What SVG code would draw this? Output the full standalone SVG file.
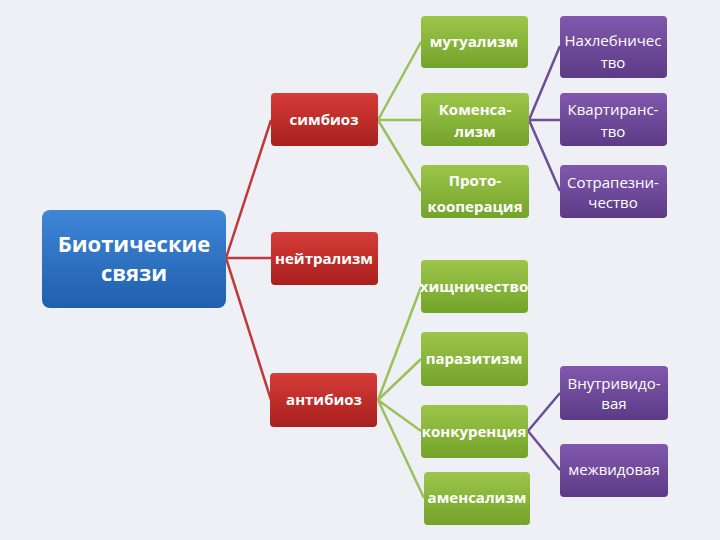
<svg xmlns="http://www.w3.org/2000/svg" width="720" height="540" viewBox="0 0 720 540">
<defs>
<linearGradient id="gb" x1="0" y1="0" x2="0" y2="1"><stop offset="0" stop-color="#3f86d6"/><stop offset="1" stop-color="#1f5fae"/></linearGradient>
<linearGradient id="gr" x1="0" y1="0" x2="0" y2="1"><stop offset="0" stop-color="#d63c38"/><stop offset="1" stop-color="#a8201d"/></linearGradient>
<linearGradient id="gg" x1="0" y1="0" x2="0" y2="1"><stop offset="0" stop-color="#9cc64a"/><stop offset="1" stop-color="#74a32a"/></linearGradient>
<linearGradient id="gp" x1="0" y1="0" x2="0" y2="1"><stop offset="0" stop-color="#8158ad"/><stop offset="1" stop-color="#5c3b86"/></linearGradient>
</defs>
<style>
text{font-family:"Open Sans","DejaVu Sans",sans-serif;fill:#fff;text-anchor:middle}
.b{font-weight:bold;font-size:15px}
.n{font-size:15px}
.r{fill:url(#gr)}.g{fill:url(#gg)}.p{fill:url(#gp)}
.lr{stroke:#c0393a;stroke-width:2.5;fill:none}
.lg{stroke:#9bc15a;stroke-width:2.5;fill:none}
.lp{stroke:#6d4d98;stroke-width:2.5;fill:none}
</style>
<rect width="720" height="540" fill="#eef0f6"/>
<g id="connectors">
<path class="lr" d="M226 258 L271 120 M226 258 L271 258 M226 258 L271 400"/>
<path class="lg" d="M378 120 L421 42 M378 120 L421 120 M378 120 L421 191"/>
<path class="lg" d="M378 400 L421 287 M378 400 L421 359 M378 400 L421 431 M378 400 L424 498"/>
<path class="lp" d="M529 120 L560 46 M529 120 L560 120 M529 120 L560 191"/>
<path class="lp" d="M528 431 L560 393 M528 431 L560 470"/>
</g>
<g id="bio"><rect x="42" y="210" width="184" height="98" rx="8" fill="url(#gb)"/><text x="134" y="252" style="font-size:22px;font-weight:bold">Биотические</text><text x="134" y="281" style="font-size:22px;font-weight:bold">связи</text></g>
<g id="simbioz"><rect class="r" x="271" y="93" width="107" height="53" rx="4"/><text class="b" x="324" y="125">симбиоз</text></g>
<g id="neitr"><rect class="r" x="271" y="232" width="107" height="53" rx="4"/><text class="b" x="324" y="264">нейтрализм</text></g>
<g id="antibioz"><rect class="r" x="270" y="373" width="107" height="54" rx="4"/><text class="b" x="324" y="405">антибиоз</text></g>
<g id="mutual"><rect class="g" x="421" y="16" width="107" height="52" rx="4"/><text class="b" x="474" y="47">мутуализм</text></g>
<g id="komens"><rect class="g" x="421" y="93" width="108" height="53" rx="4"/><text class="b" x="475" y="115">Коменса-</text><text class="b" x="475" y="137">лизм</text></g>
<g id="proto"><rect class="g" x="421" y="165" width="108" height="53" rx="4"/><text class="b" x="475" y="186">Прото-</text><text class="b" x="475" y="212">кооперация</text></g>
<g id="hish"><rect class="g" x="421" y="260" width="107" height="53" rx="4"/><text class="b" x="474" y="292">хищничество</text></g>
<g id="paraz"><rect class="g" x="421" y="332" width="107" height="54" rx="4"/><text class="b" x="474" y="364">паразитизм</text></g>
<g id="konk"><rect class="g" x="421" y="405" width="107" height="53" rx="4"/><text class="b" x="474" y="437">конкуренция</text></g>
<g id="amens"><rect class="g" x="424" y="472" width="106" height="53" rx="4"/><text class="b" x="477" y="503">аменсализм</text></g>
<g id="nahl"><rect class="p" x="560" y="16" width="107" height="62" rx="4"/><text class="n" x="613" y="46">Нахлебничес</text><text class="n" x="613" y="68">тво</text></g>
<g id="kvart"><rect class="p" x="560" y="93" width="107" height="53" rx="4"/><text class="n" x="613" y="115">Квартиранс-</text><text class="n" x="613" y="137">тво</text></g>
<g id="sotr"><rect class="p" x="560" y="165" width="107" height="53" rx="4"/><text class="n" x="613" y="188">Сотрапезни-</text><text class="n" x="613" y="208">чество</text></g>
<g id="vnutr"><rect class="p" x="560" y="366" width="108" height="54" rx="4"/><text class="n" x="614" y="389">Внутривидо-</text><text class="n" x="614" y="409">вая</text></g>
<g id="mezh"><rect class="p" x="560" y="444" width="108" height="53" rx="4"/><text class="n" x="614" y="475">межвидовая</text></g>
</svg>
